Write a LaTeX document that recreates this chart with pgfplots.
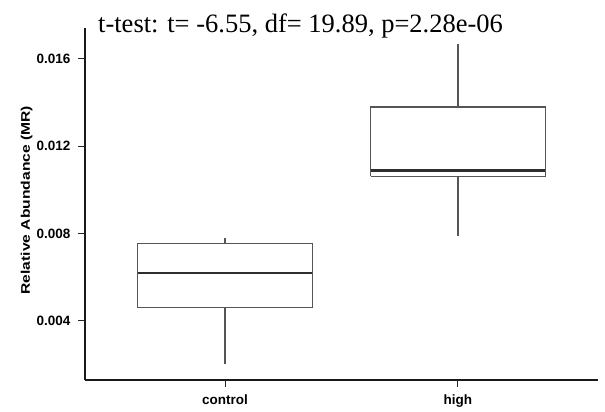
\documentclass[border=0pt]{standalone}
\usepackage{pgfplots}
\pgfplotsset{compat=1.18}
\usepackage{fontspec}
\setmainfont{Liberation Serif}
\setsansfont{Liberation Sans}
\definecolor{boxgray}{HTML}{555555}
\definecolor{medgray}{HTML}{2E2E2E}
\begin{document}
\begin{tikzpicture}
\path[use as bounding box] (0pt,0pt) rectangle (605pt,412pt);
% values are in units of 0.001 (Relative Abundance x 1000)
\begin{axis}[
  at={(85pt,32pt)}, anchor=south west,
  scale only axis, width=513pt, height=352pt,
  xmin=0.399, xmax=2.601, ymin=1.297, ymax=17.42,
  axis lines*=left,
  axis line style={-, line width=1.4pt, color=black!90},
  tick align=outside,
  major tick length=7pt,
  tick style={line width=1pt, color=black!85},
  xtick={1,2}, xticklabels={control,high},
  ytick={4,8,12,16},
  yticklabels={0.004,0.008,0.012,0.016},
  ticklabel style={font=\sffamily\bfseries\fontsize{13.5}{16}\selectfont},
  yticklabel style={xshift=-4pt},
  xticklabel style={yshift=-4pt},
  /pgf/number format/assume math mode=true,
  ylabel={\scalebox{1.25}[1]{Relative Abundance (MR)}},
  ylabel style={at={(axis description cs:-0.114,0.511)}, anchor=center, rotate=0,
    font=\sffamily\bfseries\fontsize{12.5}{15}\selectfont},
  clip=false,
]
% control
\addplot[boxgray, line width=1.1pt] coordinates {(0.625,4.60) (1.375,4.60) (1.375,7.54) (0.625,7.54) (0.625,4.60)};
\addplot[boxgray, line width=1.1pt] coordinates {(1,7.54) (1,7.82)};
\addplot[boxgray, line width=1.1pt] coordinates {(1,2.05) (1,4.60)};
\addplot[medgray, line width=2.4pt] coordinates {(0.625,6.21) (1.375,6.21)};
% high
\addplot[boxgray, line width=1.1pt] coordinates {(1.625,10.63) (2.375,10.63) (2.375,13.80) (1.625,13.80) (1.625,10.63)};
\addplot[boxgray, line width=1.1pt] coordinates {(2,13.80) (2,16.69)};
\addplot[boxgray, line width=1.1pt] coordinates {(2,7.91) (2,10.63)};
\addplot[medgray, line width=2.4pt] coordinates {(1.625,10.90) (2.375,10.90)};
\node[anchor=base west, inner sep=0pt, font=\fontsize{26.5}{30}\selectfont]
  at (rel axis cs:0.0253,0.9858) {t-test: t= -6.55, df= 19.89, p=2.28e-06};
\end{axis}
\end{tikzpicture}
\end{document}
